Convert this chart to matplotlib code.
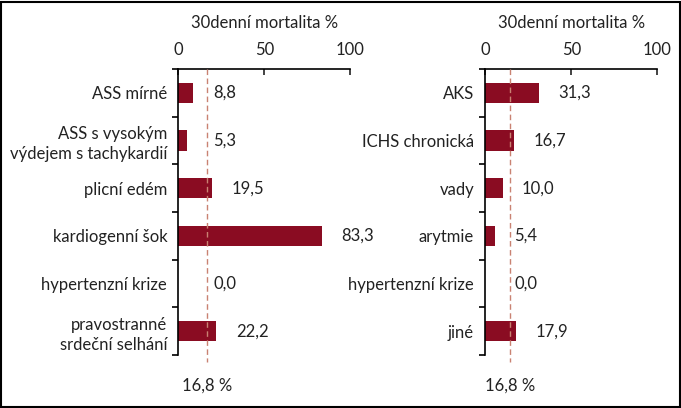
import matplotlib
matplotlib.use("Agg")
import matplotlib.pyplot as plt
from matplotlib.patches import Rectangle

plt.rcParams['font.family'] = ['Lato', 'DejaVu Sans']

left_categories = ["ASS mírné", "ASS s vysokým\nvýdejem s tachykardií", "plicní edém",
                   "kardiogenní šok", "hypertenzní krize", "pravostranné\nsrdeční selhání"]
left_values = [8.8, 5.3, 19.5, 83.3, 0.0, 22.2]
left_labels = ["8,8", "5,3", "19,5", "83,3", "0,0", "22,2"]
left_ref = 16.8

right_categories = ["AKS", "ICHS chronická", "vady", "arytmie", "hypertenzní krize", "jiné"]
right_values = [31.3, 16.7, 10.0, 5.4, 0.0, 17.9]
right_labels = ["31,3", "16,7", "10,0", "5,4", "0,0", "17,9"]
right_ref = 14.5

ref_text = "16,8 %"
axis_title = "30denní mortalita %"
xticks = [0, 50, 100]

BAR = "#8a0c22"
DASH = "#c98272"
FS = 12
TXT = "#222222"

W, H = 681, 408
fig = plt.figure(figsize=(W / 100, H / 100), dpi=100)

fig.add_artist(Rectangle((1 / W, 1 / H), 1 - 2.5 / W, 1 - 2.5 / H, transform=fig.transFigure,
                         fill=False, edgecolor="black", linewidth=1.5))


def panel(x0, cats, vals, labels, ref, min_lab):
    ax = fig.add_axes([x0 / W, 1 - 355 / H, 172 / W, 286 / H])
    n = len(cats)
    ypos = list(range(n))
    ax.barh(ypos, vals, height=0.42, color=BAR, zorder=2)
    ax.set_xlim(0, 100)
    ax.set_ylim(n - 0.5, -0.5)
    for s in ["right", "bottom"]:
        ax.spines[s].set_visible(False)
    for s in ["top", "left"]:
        ax.spines[s].set_linewidth(1.2)
    ax.xaxis.tick_top()
    ax.set_xticks(xticks)
    ax.set_xticklabels([str(t) for t in xticks], fontsize=FS)
    ax.tick_params(axis="x", direction="in", length=4, width=1.2, pad=8, colors=TXT)
    ax.set_yticks(ypos)
    ax.set_yticklabels(cats, fontsize=FS, linespacing=1.3, color=TXT)
    ax.tick_params(axis="y", which="major", length=0, pad=8)
    ax.set_yticks([i - 0.5 for i in range(n + 1)], minor=True)
    ax.tick_params(axis="y", which="minor", direction="out", length=4, width=1.2)
    ax.xaxis.set_label_position("top")
    ax.set_xlabel(axis_title, fontsize=FS, labelpad=10, color=TXT)
    ax.plot([ref, ref], [-0.5, n - 0.35], color=DASH, linestyle=(0, (4, 2.5)),
            linewidth=1.0, clip_on=False, zorder=3)
    for y, v, lab in zip(ypos, vals, labels):
        ax.annotate(lab, xy=(max(v, min_lab), y), xytext=(14, 0), textcoords="offset points",
                    va="center", ha="left", fontsize=FS, color=TXT)
    ax.annotate(ref_text, xy=(ref, n - 0.5), xytext=(0, -22), textcoords="offset points",
                va="center", ha="center", fontsize=FS, color=TXT, annotation_clip=False)
    ax.set_facecolor("none")
    return ax


panel(178.3, left_categories, left_values, left_labels, left_ref, 9.0)
panel(485.3, right_categories, right_values, right_labels, right_ref, 5.5)

fig.savefig("out.png", dpi=100)
